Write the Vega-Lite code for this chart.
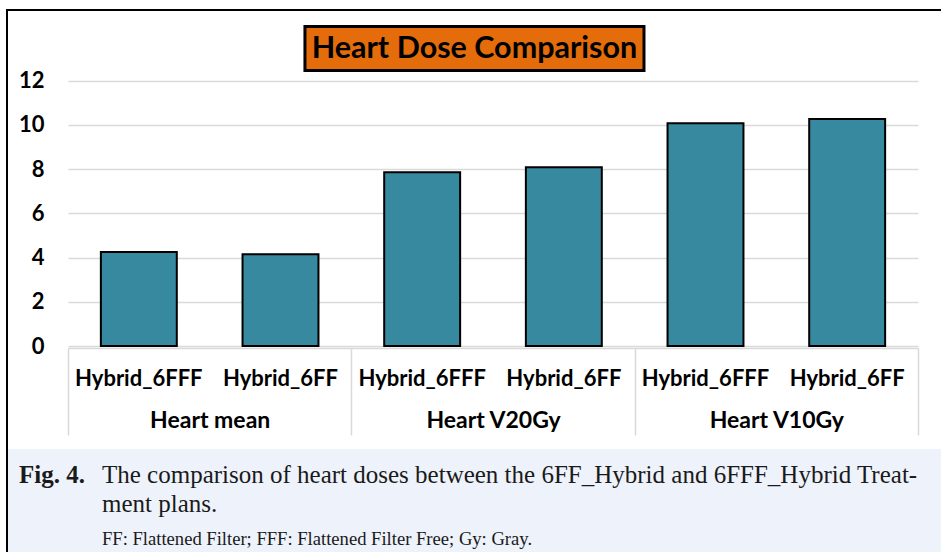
{
  "$schema": "https://vega.github.io/schema/vega-lite/v6.json",
  "width": 934,
  "height": 542,
  "autosize": {"type": "none"},
  "padding": {"left": 7, "top": 10, "right": 0, "bottom": 0},
  "background": "white",
  "config": {
    "view": {"stroke": "black", "strokeWidth": 2, "strokeDash": [934, 1476, 542], "fill": "white"},
    "font": "Lato"
  },
  "datasets": {
    "bars": [
      {"group": "Heart mean", "series": "Hybrid_6FFF", "key": "Heart mean|Hybrid_6FFF", "value": 4.25},
      {"group": "Heart mean", "series": "Hybrid_6FF", "key": "Heart mean|Hybrid_6FF", "value": 4.15},
      {"group": "Heart V20Gy", "series": "Hybrid_6FFF", "key": "Heart V20Gy|Hybrid_6FFF", "value": 7.86},
      {"group": "Heart V20Gy", "series": "Hybrid_6FF", "key": "Heart V20Gy|Hybrid_6FF", "value": 8.08},
      {"group": "Heart V10Gy", "series": "Hybrid_6FFF", "key": "Heart V10Gy|Hybrid_6FFF", "value": 10.07},
      {"group": "Heart V10Gy", "series": "Hybrid_6FF", "key": "Heart V10Gy|Hybrid_6FF", "value": 10.27}
    ]
  },
  "layer": [
    {
      "data": {"name": "bars"},
      "mark": {"type": "bar", "fill": "#37899f", "stroke": "black", "strokeWidth": 2},
      "encoding": {
        "x": {
          "field": "key", "type": "nominal", "sort": null,
          "scale": {"range": [61, 911], "paddingInner": 0.464, "paddingOuter": 0.232},
          "axis": {
            "orient": "bottom", "offset": -204, "title": null, "ticks": false,
            "domain": true, "domainColor": "#d9d9d9", "domainWidth": 1.5,
            "labelExpr": "split(datum.label, '|')[1]",
            "labelFont": "Lato", "labelFontWeight": "bold", "labelFontSize": 22,
            "labelColor": "black", "labelPadding": 20, "labelAngle": 0,
            "grid": false, "labelOverlap": false
          }
        },
        "y": {
          "field": "value", "type": "quantitative",
          "scale": {"domain": [0, 12], "range": [336, 70.7], "nice": false, "zero": true},
          "axis": {
            "orient": "left", "offset": -37, "title": null,
            "values": [0, 2, 4, 6, 8, 10, 12], "ticks": false, "domain": false,
            "labelPadding": 0, "labelFont": "Lato", "labelFontWeight": "bold",
            "labelFontSize": 22, "labelColor": "black",
            "grid": true, "gridColor": "#d9d9d9", "gridWidth": 1.5
          }
        }
      }
    },
    {
      "data": {"name": "bars"},
      "mark": {"type": "text", "text": " ", "opacity": 0},
      "encoding": {
        "x": {
          "field": "group", "type": "nominal", "sort": null,
          "scale": {"range": [61, 911], "paddingInner": 0, "paddingOuter": 0},
          "axis": {
            "orient": "bottom", "offset": -204, "title": null,
            "domain": false, "ticks": true, "tickBand": "extent", "tickSize": 87,
            "tickColor": "#d9d9d9", "tickWidth": 1.5,
            "labelPadding": -26, "labelFont": "Lato", "labelFontWeight": "bold",
            "labelFontSize": 23, "labelColor": "black", "labelAngle": 0,
            "grid": false, "labelOverlap": false
          }
        }
      }
    },
    {
      "data": {"values": [{}]},
      "layer": [
        {
          "mark": {"type": "rect", "fill": "#e46c0a", "stroke": "black", "strokeWidth": 3},
          "encoding": {
            "x": {"datum": 0.319, "type": "quantitative", "scale": {"domain": [0, 1], "range": [0, 934], "nice": false, "zero": false}, "axis": null},
            "x2": {"datum": 0.682},
            "y": {"datum": 14.45, "type": "quantitative", "axis": null},
            "y2": {"datum": 12.46}
          }
        },
        {
          "mark": {"type": "text", "text": "Heart Dose Comparison", "font": "Lato", "fontWeight": "bold", "fontSize": 30.5, "color": "black", "align": "center", "baseline": "middle"},
          "encoding": {
            "x": {"datum": 0.5005, "type": "quantitative"},
            "y": {"datum": 13.455, "type": "quantitative", "axis": null}
          }
        }
      ]
    },
    {
      "data": {"values": [{}]},
      "layer": [
        {
          "mark": {"type": "rect", "fill": "#eef2fa"},
          "encoding": {
            "x": {"datum": 0.0011, "type": "quantitative", "scale": {"domain": [0, 1], "range": [0, 934], "nice": false, "zero": false}, "axis": null},
            "x2": {"datum": 1},
            "y": {"datum": -4.658, "type": "quantitative", "axis": null},
            "y2": {"datum": -9.5}
          }
        },
        {
          "mark": {"type": "text", "text": "Fig. 4.", "font": "Liberation Serif", "fontWeight": "bold", "fontSize": 25, "color": "#1a1a1a", "align": "left", "baseline": "alphabetic"},
          "encoding": {
            "x": {"datum": 0.0128, "type": "quantitative"},
            "y": {"datum": -6.18, "type": "quantitative", "axis": null}
          }
        },
        {
          "mark": {"type": "text", "text": "The comparison of heart doses between the 6FF_Hybrid and 6FFF_Hybrid Treat-", "font": "Liberation Serif", "fontSize": 25, "color": "#1a1a1a", "align": "left", "baseline": "alphabetic"},
          "encoding": {
            "x": {"datum": 0.1017, "type": "quantitative"},
            "y": {"datum": -6.18, "type": "quantitative", "axis": null}
          }
        },
        {
          "mark": {"type": "text", "text": "ment plans.", "font": "Liberation Serif", "fontSize": 25, "color": "#1a1a1a", "align": "left", "baseline": "alphabetic"},
          "encoding": {
            "x": {"datum": 0.1017, "type": "quantitative"},
            "y": {"datum": -7.49, "type": "quantitative", "axis": null}
          }
        },
        {
          "mark": {"type": "text", "text": "FF: Flattened Filter; FFF: Flattened Filter Free; Gy: Gray.", "font": "Liberation Serif", "fontSize": 18.6, "color": "#1a1a1a", "align": "left", "baseline": "alphabetic"},
          "encoding": {
            "x": {"datum": 0.1017, "type": "quantitative"},
            "y": {"datum": -9.0, "type": "quantitative", "axis": null}
          }
        }
      ]
    }
  ],
  "resolve": {"scale": {"x": "independent"}, "axis": {"x": "independent", "y": "independent"}}
}
